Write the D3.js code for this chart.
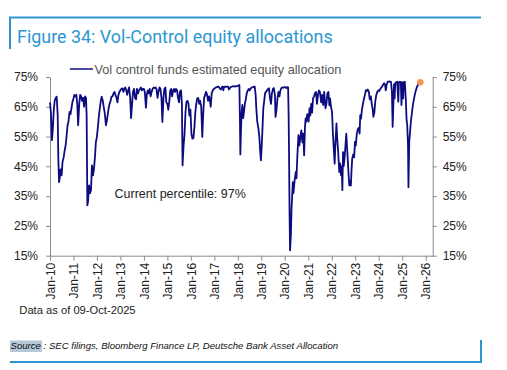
<!DOCTYPE html>
<html><head><meta charset="utf-8">
<script src="https://cdn.jsdelivr.net/npm/d3@7"></script>
<style>body{margin:0;background:#fff}svg{display:block}</style></head>
<body><svg id="c" width="507" height="370"></svg>
<script>
const yTicks = [15, 25, 35, 45, 55, 65, 75];
const xTickYears = [2010,2011,2012,2013,2014,2015,2016,2017,2018,2019,2020,2021,2022,2023,2024,2025,2026];
const xTickLabels = ["Jan-10","Jan-11","Jan-12","Jan-13","Jan-14","Jan-15","Jan-16","Jan-17","Jan-18","Jan-19","Jan-20","Jan-21","Jan-22","Jan-23","Jan-24","Jan-25","Jan-26"];
const seriesName = "Vol control funds estimated equity allocation";
const latest = ["2025-10-09", 73.2];
const allocation = [
["2010-01-01",66.5],["2010-01-15",63],["2010-02-01",53.8],["2010-02-15",58],["2010-03-01",64],["2010-03-15",67],["2010-04-01",68],["2010-04-15",68.4],["2010-05-01",62],["2010-05-10",48],["2010-05-22",39.7],["2010-06-01",41],["2010-06-15",44],["2010-07-01",42],["2010-07-15",46.5],["2010-08-01",48],["2010-08-15",50],["2010-09-01",52],["2010-09-15",55],["2010-10-01",58.8],["2010-10-15",60],["2010-11-01",63.3],["2010-11-15",62.5],["2010-12-01",64.5],["2010-12-15",66.5],
["2011-01-01",67.8],["2011-01-15",69],["2011-02-01",68.5],["2011-02-15",69],["2011-03-01",66],["2011-03-15",58.8],["2011-04-01",66],["2011-04-15",69],["2011-05-01",68.5],["2011-05-15",67],["2011-06-01",68],["2011-06-15",65],["2011-07-01",68.5],["2011-07-15",68],["2011-07-25",62],["2011-08-05",31.9],["2011-08-15",33],["2011-09-01",38.6],["2011-09-15",36],["2011-10-01",37],["2011-10-15",45.3],["2011-11-01",42],["2011-11-15",44],["2011-12-01",48],["2011-12-15",53],
["2012-01-01",55],["2012-01-15",58],["2012-02-01",62],["2012-02-15",64.5],["2012-03-01",67],["2012-03-15",68.4],["2012-04-01",67],["2012-04-15",65],["2012-05-01",63],["2012-05-20",58.8],["2012-06-01",60],["2012-06-15",62],["2012-07-01",64.5],["2012-07-15",66],["2012-08-01",67],["2012-08-15",68.4],["2012-09-01",68.5],["2012-09-15",69.5],["2012-10-01",70],["2012-10-15",69],["2012-11-01",68],["2012-11-15",66.5],["2012-12-01",69],["2012-12-15",70],
["2013-01-01",70.5],["2013-01-15",71],["2013-02-01",71.2],["2013-02-15",70],["2013-03-01",71],["2013-03-15",71.5],["2013-04-01",70.5],["2013-04-15",69],["2013-05-01",70.5],["2013-05-15",71.5],["2013-06-01",68],["2013-06-15",61.2],["2013-07-01",66],["2013-07-15",70],["2013-08-01",71],["2013-08-15",68],["2013-09-01",67.5],["2013-09-15",71],["2013-10-01",69.5],["2013-10-15",70.5],["2013-11-01",71],["2013-11-15",71.5],["2013-12-01",70.5],["2013-12-15",71],
["2014-01-01",71],["2014-01-15",70],["2014-02-01",64.7],["2014-02-15",69],["2014-03-01",70.5],["2014-03-15",69.5],["2014-04-01",71],["2014-04-15",68.5],["2014-05-01",70],["2014-05-15",71],["2014-06-01",71.5],["2014-06-15",71.3],["2014-07-01",71.5],["2014-07-15",71],["2014-08-01",68],["2014-08-15",70],["2014-09-01",71.5],["2014-09-15",71],["2014-10-01",68],["2014-10-15",59.9],["2014-11-01",68],["2014-11-15",71],["2014-12-01",71.5],["2014-12-15",66.5],
["2015-01-01",66],["2015-01-15",64],["2015-02-01",67],["2015-02-15",70.5],["2015-03-01",71],["2015-03-15",68.5],["2015-04-01",70.5],["2015-04-15",71],["2015-05-01",70],["2015-05-15",71],["2015-06-01",70.5],["2015-06-15",68],["2015-07-01",66.5],["2015-07-15",70],["2015-08-01",70.5],["2015-08-15",66],["2015-08-25",45.3],["2015-09-10",52],["2015-09-25",56],["2015-10-10",63.3],["2015-10-25",66.7],["2015-11-10",67],["2015-11-25",66],["2015-12-10",62],["2015-12-25",64],
["2016-01-10",56],["2016-01-25",54.3],["2016-02-10",54.5],["2016-02-25",58],["2016-03-10",63],["2016-03-25",66],["2016-04-10",67.8],["2016-04-25",68],["2016-05-10",66],["2016-05-25",67],["2016-06-10",65],["2016-06-27",54.9],["2016-07-10",62],["2016-07-25",68],["2016-08-10",69],["2016-08-25",70],["2016-09-10",69],["2016-09-25",67],["2016-10-10",68.5],["2016-10-25",67],["2016-11-05",65],["2016-11-20",69.5],["2016-12-10",70.6],["2016-12-25",71],
["2017-01-10",71.3],["2017-01-25",71.5],["2017-02-10",71.6],["2017-02-25",71.8],["2017-03-10",71.7],["2017-03-25",71.2],["2017-04-10",70.8],["2017-04-25",71.5],["2017-05-10",71.8],["2017-05-20",70.5],["2017-06-01",71.7],["2017-06-15",71.8],["2017-07-01",71.7],["2017-07-15",71.8],["2017-08-01",71.8],["2017-08-15",70.8],["2017-09-01",71.3],["2017-09-15",71.7],["2017-10-01",71.8],["2017-10-15",71.9],["2017-11-01",71.9],["2017-11-15",71.8],["2017-12-01",71.9],["2017-12-15",71.9],
["2018-01-10",72.1],["2018-01-25",72.3],["2018-02-03",60],["2018-02-09",49],["2018-02-20",58],["2018-03-01",63],["2018-03-12",65.6],["2018-03-25",61.2],["2018-04-05",63],["2018-04-20",66],["2018-05-05",67.5],["2018-05-20",69.6],["2018-06-05",70.5],["2018-06-20",71],["2018-07-05",70.5],["2018-07-20",71.2],["2018-08-05",71.5],["2018-08-20",71.5],["2018-09-05",71.7],["2018-09-20",71.8],["2018-10-05",69],["2018-10-15",64.5],["2018-10-30",60],["2018-11-15",58],["2018-12-01",55],["2018-12-15",50],["2018-12-26",47],
["2019-01-08",52],["2019-01-20",58],["2019-02-01",64.5],["2019-02-15",67],["2019-03-01",69.6],["2019-03-15",70],["2019-04-01",70.5],["2019-04-15",71],["2019-05-01",71.2],["2019-05-15",68],["2019-06-01",66],["2019-06-15",69.5],["2019-07-01",71],["2019-07-15",71.3],["2019-08-01",69],["2019-08-10",61.6],["2019-08-25",64],["2019-09-10",68],["2019-09-25",70],["2019-10-10",68.5],["2019-10-25",70.5],["2019-11-10",71.3],["2019-11-25",71.5],["2019-12-10",71.4],["2019-12-25",71.6],
["2020-01-10",71.6],["2020-01-25",71.3],["2020-02-10",71.6],["2020-02-22",71.5],["2020-03-01",62],["2020-03-08",48],["2020-03-15",30],["2020-03-23",16.8],["2020-04-05",22],["2020-04-15",30.8],["2020-04-25",35],["2020-05-05",39.7],["2020-05-15",36],["2020-06-01",40],["2020-06-20",43.1],["2020-07-01",41],["2020-07-15",48.7],["2020-08-01",55.5],["2020-08-15",52],["2020-09-01",55],["2020-09-15",57.1],["2020-10-01",53],["2020-10-15",56],["2020-10-28",48.7],["2020-11-10",58],["2020-11-20",61.1],["2020-12-01",60],["2020-12-15",62.5],
["2021-01-05",60],["2021-01-20",64.5],["2021-02-01",62],["2021-02-15",66],["2021-03-01",63],["2021-03-15",67.8],["2021-04-01",68.5],["2021-04-15",69.5],["2021-05-01",70],["2021-05-15",66],["2021-06-01",69],["2021-06-15",70.5],["2021-07-01",70],["2021-07-20",66.5],["2021-08-05",69],["2021-08-20",65.6],["2021-09-05",70],["2021-09-25",64.5],["2021-10-10",66],["2021-10-25",69.5],["2021-11-10",70],["2021-11-25",65.5],["2021-12-05",67.8],["2021-12-20",65],
["2022-01-05",63.3],["2022-01-20",55.5],["2022-02-15",45.9],["2022-02-25",52],["2022-03-15",59.4],["2022-03-25",55],["2022-04-10",50],["2022-04-28",43.1],["2022-05-10",46],["2022-05-25",42],["2022-06-05",45],["2022-06-15",37],["2022-06-25",49.8],["2022-07-05",45],["2022-07-20",48],["2022-08-05",53],["2022-08-15",56],["2022-08-25",52],["2022-09-10",46],["2022-09-20",42],["2022-10-01",38.6],["2022-10-15",40],["2022-10-25",38.5],["2022-11-05",44],["2022-11-15",47.6],["2022-12-01",49],["2022-12-15",48],["2022-12-28",53.2],
["2023-01-10",52],["2023-01-25",56],["2023-02-10",57.5],["2023-02-25",58],["2023-03-10",56],["2023-03-20",62.2],["2023-04-01",61],["2023-04-15",64],["2023-05-01",66],["2023-05-15",67.5],["2023-06-01",69],["2023-06-15",70.6],["2023-07-01",70.3],["2023-07-15",70.8],["2023-08-01",70],["2023-08-15",67.5],["2023-09-01",68.5],["2023-09-15",66],["2023-10-01",64],["2023-10-10",61.6],["2023-10-25",63],["2023-11-10",67],["2023-11-25",69],["2023-12-10",70],["2023-12-25",70.5],
["2024-01-10",70.3],["2024-01-25",71],["2024-02-10",71.5],["2024-02-25",71.8],["2024-03-10",72.5],["2024-03-25",72.9],["2024-04-10",72.3],["2024-04-20",70.5],["2024-05-05",72.5],["2024-05-20",73.4],["2024-06-05",73.4],["2024-06-20",73.5],["2024-07-10",73.4],["2024-07-25",70],["2024-08-05",58.3],["2024-08-15",65],["2024-08-25",72.5],["2024-09-05",67.8],["2024-09-15",73],["2024-10-01",73.3],["2024-10-15",73.4],["2024-11-01",66.7],["2024-11-10",73.2],["2024-11-25",73.4],["2024-12-10",73.3],["2024-12-20",65.6],
["2025-01-05",73.3],["2025-01-15",67.8],["2025-01-25",73.2],["2025-02-10",73.4],["2025-02-25",67.8],["2025-03-10",60.5],["2025-03-20",58.8],["2025-04-01",52],["2025-04-08",38],["2025-04-20",53.2],["2025-05-01",56],["2025-05-15",59.9],["2025-06-01",63],["2025-06-15",65.5],["2025-07-01",67.5],["2025-07-15",69],["2025-08-01",70.5],["2025-08-15",71.5],["2025-09-01",72.3],["2025-09-15",72.8],["2025-10-09",73.2]
];

const parse = d3.timeParse("%Y-%m-%d");
const data = allocation.map(d => ({date: parse(d[0]), value: d[1]}));
const svg = d3.select("#c");
const blue = "#2a97d1";
const axisColor = "#8c8c8c";
const font = "'Liberation Sans', Arial, sans-serif";

// Frame
svg.append("path").attr("d","M10,49 V17.5 H481").attr("fill","none").attr("stroke",blue).attr("stroke-width",2);
svg.append("path").attr("d","M10,362 H481 V340").attr("fill","none").attr("stroke",blue).attr("stroke-width",2);
svg.append("text").attr("x",17).attr("y",43).attr("fill",blue).attr("font-family","Roboto, sans-serif").attr("font-size",17.9).text("Figure 34: Vol-Control equity allocations");

const x = d3.scaleTime().domain([new Date(2010,0,1), new Date(2026,3,20)]).range([50,432.7]);
const y = d3.scaleLinear().domain([15,75]).range([255.7,77]);

function styleAxis(g){
  g.selectAll("path,line").attr("stroke",axisColor);
  g.selectAll("text").attr("fill","#222").attr("font-family",font).attr("font-size",12);
}
const gl = svg.append("g").attr("transform","translate(50,0)")
  .call(d3.axisLeft(y).tickValues(yTicks).tickFormat(d=>d+"%").tickSize(4).tickSizeOuter(0).tickPadding(8));
styleAxis(gl);
const gr = svg.append("g").attr("transform","translate(432.7,0)")
  .call(d3.axisRight(y).tickValues(yTicks).tickFormat(d=>d+"%").tickSize(4).tickSizeOuter(0).tickPadding(6));
styleAxis(gr);
const gb = svg.append("g").attr("transform","translate(0,255.7)")
  .call(d3.axisBottom(x).tickValues(xTickYears.map(yr=>new Date(yr,0,1))).tickFormat((d,i)=>xTickLabels[i]).tickSize(5).tickSizeOuter(0));
styleAxis(gb);
gb.selectAll("text").attr("transform","rotate(-90)").attr("x",-7).attr("y",0).attr("dy","0.35em").attr("text-anchor","end");

// Line
const line = d3.line().x(d=>x(d.date)).y(d=>y(d.value));
svg.append("path").datum(data).attr("d",line).attr("fill","none").attr("stroke","#0c0c80").attr("stroke-width",1.8).attr("stroke-linejoin","round");
svg.append("circle").attr("cx",x(parse(latest[0]))).attr("cy",y(latest[1])).attr("r",3.3).attr("fill","#f4985a");

// Legend
svg.append("line").attr("x1",70).attr("x2",93).attr("y1",69).attr("y2",69).attr("stroke","#0c0c80").attr("stroke-width",1.5);
svg.append("text").attr("x",94.5).attr("y",73.5).attr("fill","#555").attr("font-family",font).attr("font-size",12.7).text(seriesName);

svg.append("text").attr("x",114.5).attr("y",198).attr("fill","#222").attr("font-family",font).attr("font-size",12.5).text("Current percentile: 97%");
svg.append("text").attr("x",19.3).attr("y",313.5).attr("fill","#222").attr("font-family",font).attr("font-size",11.2).text("Data as of 09-Oct-2025");

// Source
svg.append("rect").attr("x",10).attr("y",340.5).attr("width",32).attr("height",11.5).attr("fill","#b4c8d8");
svg.append("text").attr("x",10.5).attr("y",349.3).attr("fill","#111").attr("font-family",font).attr("font-style","italic").attr("font-size",9.6).text("Source : SEC filings, Bloomberg Finance LP, Deutsche Bank Asset Allocation");
</script></body></html>
